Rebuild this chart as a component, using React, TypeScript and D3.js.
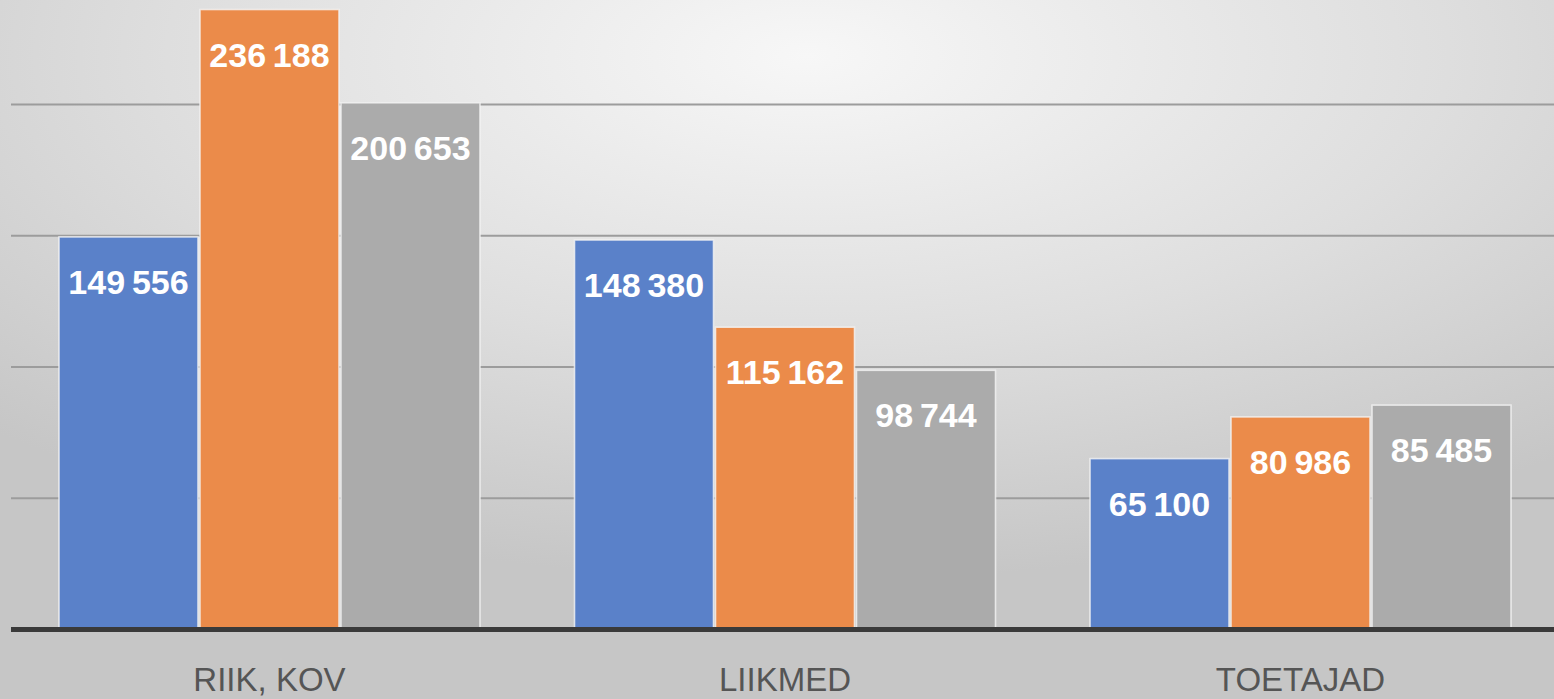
import React from "react";
import * as d3 from "d3";

const categories = ["RIIK, KOV", "LIIKMED", "TOETAJAD"];
const seriesNames = ["s1", "s2", "s3"];
const seriesA = [149556, 148380, 65100];
const seriesB = [236188, 115162, 80986];
const seriesC = [200653, 98744, 85485];
const gridTicks = [50000, 100000, 150000, 200000, 250000];
const colors = ["#5A81C9", "#EB8B4A", "#ABABAB"];

const W = 1554;
const H = 699;

export default function App() {
  const series = [seriesA, seriesB, seriesC];
  const y = d3.scaleLinear().domain([0, 200000]).range([629.5, 104.5]);
  const x0 = d3
    .scaleBand<string>()
    .domain(categories)
    .range([11.75, 1558.25])
    .paddingInner(0.1795)
    .paddingOuter(0.0897);
  const x1 = d3
    .scaleBand<string>()
    .domain(seriesNames)
    .range([0, x0.bandwidth()]);
  const fmt = (v: number) => d3.format(",")(v).replace(/,/g, "\u2009");

  return (
    <svg
      width={W}
      height={H}
      style={{ display: "block", position: "absolute", left: 0, top: 0 }}
    >
      <defs>
        <radialGradient id="bg" cx="52%" cy="8%" r="75%" fx="52%" fy="8%">
          <stop offset="0%" stopColor="#f7f7f7" />
          <stop offset="55%" stopColor="#dedede" />
          <stop offset="100%" stopColor="#c6c6c6" />
        </radialGradient>
      </defs>
      <rect x={0} y={0} width={W} height={H} fill="url(#bg)" />
      {gridTicks.map((t) => (
        <line
          key={t}
          x1={11}
          x2={W}
          y1={y(t)}
          y2={y(t)}
          stroke="#9c9c9c"
          strokeWidth={2}
        />
      ))}
      {categories.map((c, ci) => (
        <g key={c} transform={`translate(${x0(c)},0)`}>
          {series.map((s, si) => {
            const v = s[ci];
            const bx = x1(seriesNames[si])!;
            const bw = x1.bandwidth();
            return (
              <g key={si}>
                <rect
                  x={bx + 1}
                  y={y(v)}
                  width={bw - 2}
                  height={y(0) - y(v)}
                  fill={colors[si]}
                  stroke="#f4f4f4"
                  strokeOpacity={0.8}
                  strokeWidth={1.6}
                />
                <text
                  x={bx + bw / 2}
                  y={y(v) + 57}
                  textAnchor="middle"
                  fill="#ffffff"
                  fontFamily="'Liberation Sans', Arial, sans-serif"
                  fontWeight="bold"
                  fontSize={34}
                >
                  {fmt(v)}
                </text>
              </g>
            );
          })}
          <text
            x={x0.bandwidth() / 2}
            y={691}
            textAnchor="middle"
            fill="#555555"
            fontFamily="'Liberation Sans', Arial, sans-serif"
            fontSize={33}
          >
            {c}
          </text>
        </g>
      ))}
      <line
        x1={11}
        x2={W}
        y1={y(0)}
        y2={y(0)}
        stroke="#3a3a3a"
        strokeWidth={5}
      />
    </svg>
  );
}
